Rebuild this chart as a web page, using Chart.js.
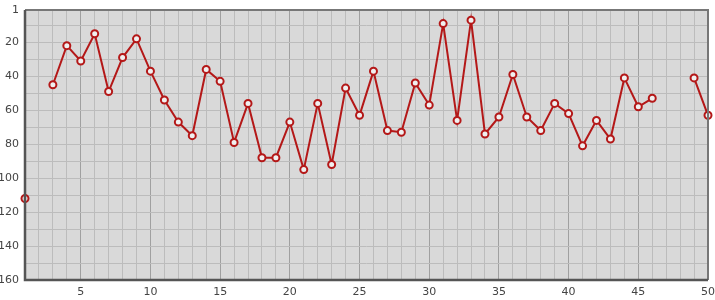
<!DOCTYPE html>
<html>
<head>
<meta charset="utf-8">
<script src="https://cdn.jsdelivr.net/npm/chart.js@4"></script>
<style>
  html, body { margin: 0; padding: 0; background: #fff; }
  #wrap { width: 715px; height: 300px; }
</style>
</head>
<body>
<div id="wrap"><canvas id="rankChart" width="715" height="300"></canvas></div>
<script>
// posições (eixo x) e ranking (eixo y invertido); null = sem dado
const posicoes = Array.from({ length: 50 }, (_, i) => i + 1);
const ranking = [
    112, null, 45, 22, 31, 15, 49, 29, 18, 37,
    54, 67, 75, 36, 43, 79, 56, 88, 88, 67,
    95, 56, 92, 47, 63, 37, 72, 73, 44, 57,
    9, 66, 7, 74, 64, 39, 64, 72, 56, 62,
    81, 66, 77, 41, 58, 53, null, null, 41, 63
];
const yTicks = [1, 10, 20, 30, 40, 50, 60, 70, 80, 90, 100, 110, 120, 130, 140, 150, 160];
const yLabels = [1, 20, 40, 60, 80, 100, 120, 140, 160];

// moldura do gráfico (fundo cinza + bordas)
const moldura = {
    id: 'moldura',
    beforeDraw(chart) {
        const { ctx, chartArea: a } = chart;
        ctx.save();
        ctx.fillStyle = '#d9d9d9';
        ctx.fillRect(a.left, a.top, a.right - a.left, a.bottom - a.top);
        ctx.restore();
    },
    afterDraw(chart) {
        const { ctx, chartArea: a } = chart;
        ctx.save();
        // topo e direita
        ctx.strokeStyle = '#777';
        ctx.lineWidth = 2;
        ctx.beginPath();
        ctx.moveTo(a.left, a.top);
        ctx.lineTo(a.right, a.top);
        ctx.lineTo(a.right, a.bottom);
        ctx.stroke();
        // esquerda e base
        ctx.strokeStyle = '#555';
        ctx.lineWidth = 2.5;
        ctx.beginPath();
        ctx.moveTo(a.left, a.top);
        ctx.lineTo(a.left, a.bottom);
        ctx.lineTo(a.right, a.bottom);
        ctx.stroke();
        ctx.restore();
    }
};

const ctx = document.getElementById('rankChart');
new Chart(ctx.getContext('2d'), {
    type: 'line',
    data: {
        datasets: [{
            data: posicoes.map((x, i) => ({ x: x, y: ranking[i] })),
            borderColor: '#b41818',
            borderWidth: 2,
            pointRadius: 3.5,
            pointBorderWidth: 2,
            pointBackgroundColor: '#f0f0f0',
            pointBorderColor: '#b41818',
            spanGaps: false,
            tension: 0,
            clip: false
        }]
    },
    options: {
        responsive: false,
        animation: false,
        events: [],
        layout: { padding: { top: 10, right: 7, left: 0, bottom: 0 } },
        plugins: { legend: { display: false }, tooltip: { enabled: false } },
        scales: {
            x: {
                type: 'linear',
                min: 1,
                max: 50,
                afterBuildTicks: (s) => { s.ticks = posicoes.map(v => ({ value: v })); },
                afterFit: (s) => { s.height = 20; s.paddingLeft = 0; s.paddingRight = 0; },
                border: { display: false },
                grid: {
                    drawTicks: false,
                    lineWidth: 1,
                    color: (c) => (c.tick && c.tick.value % 5 === 0) ? '#a0a0a0' : '#bcbcbc'
                },
                ticks: {
                    autoSkip: false,
                    maxRotation: 0,
                    padding: 6,
                    color: '#444',
                    font: { family: 'DejaVu Sans', size: 11 },
                    callback: (v) => (v % 5 === 0 ? String(v) : '')
                }
            },
            y: {
                type: 'linear',
                reverse: true,
                min: 1,
                max: 160,
                afterBuildTicks: (s) => { s.ticks = yTicks.map(v => ({ value: v })); },
                afterFit: (s) => { s.width = 25; s.paddingTop = 0; s.paddingBottom = 0; },
                border: { display: false },
                grid: { drawTicks: false, color: '#bcbcbc', lineWidth: 1 },
                ticks: {
                    autoSkip: false,
                    padding: 6,
                    color: '#444',
                    font: { family: 'DejaVu Sans', size: 11 },
                    callback: (v) => (yLabels.includes(v) ? String(v) : '')
                }
            }
        }
    },
    plugins: [moldura]
});
</script>
</body>
</html>
